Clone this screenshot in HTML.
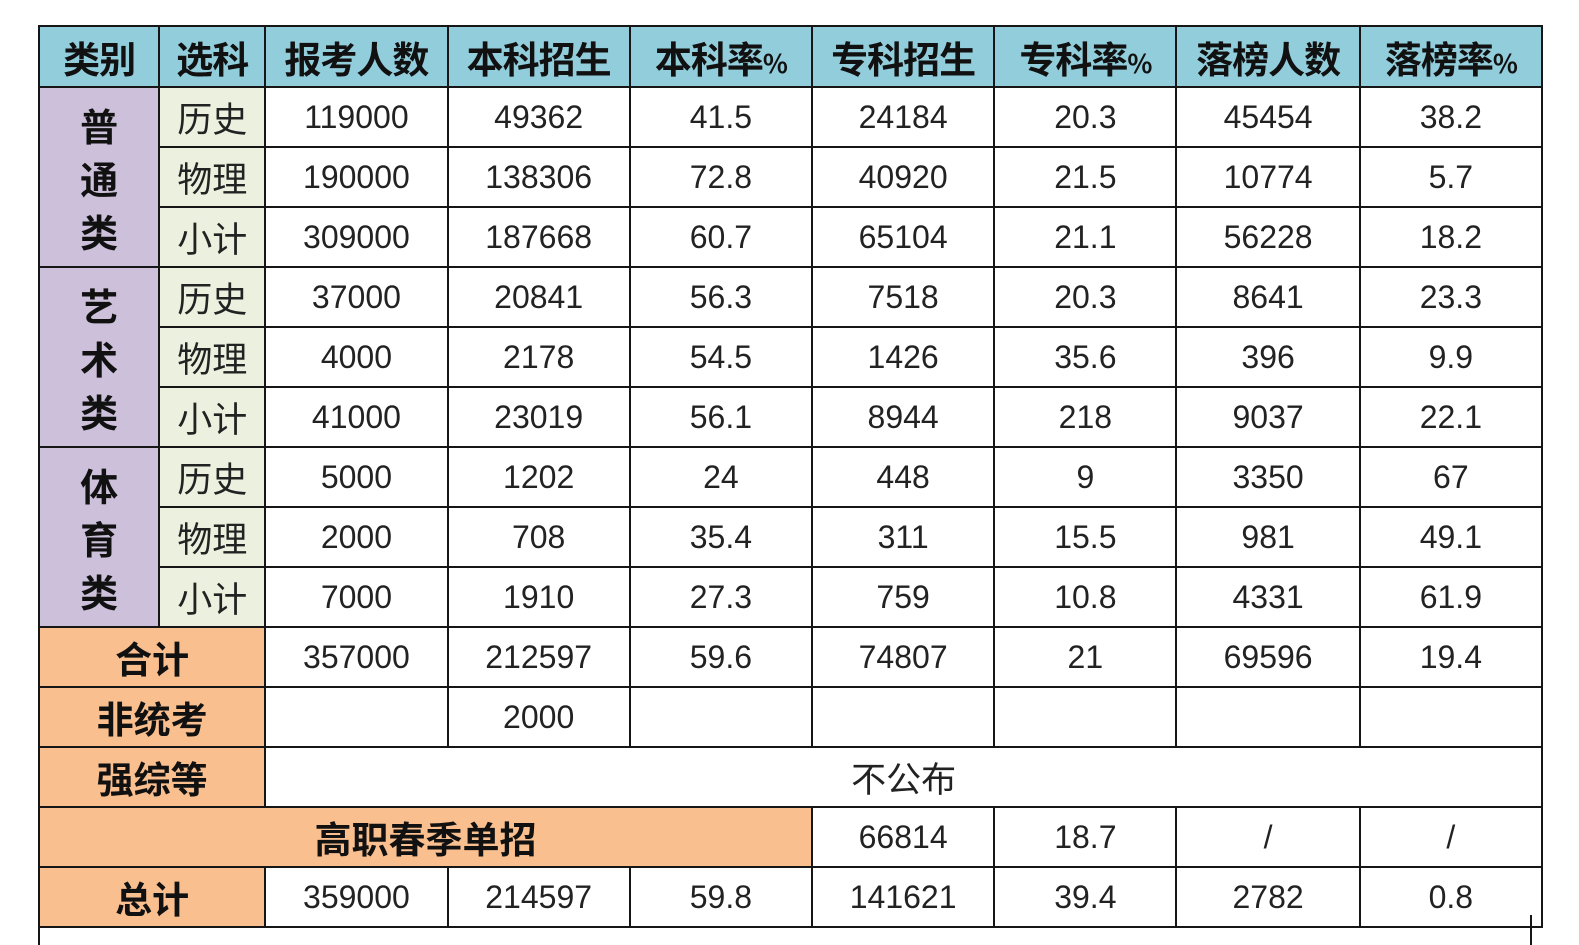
<!DOCTYPE html>
<html><head><meta charset="utf-8"><style>
html,body{margin:0;padding:0;background:#fff;width:1579px;height:938px;overflow:hidden}
.wrap{position:absolute;left:38px;top:25px}
table{border-collapse:collapse;table-layout:fixed;width:1505px}
td{border:2px solid #161616;text-align:center;padding:0;font-family:"Liberation Sans","Noto Sans CJK SC",sans-serif;font-size:32px;color:#222;overflow:hidden;white-space:nowrap}
tr{height:60px}
.h td{background:#92cddc;font-weight:bold;font-size:37px;color:#111;height:59px;font-family:"Noto Sans CJK SC",sans-serif;letter-spacing:-1px}
.h td span{font-size:26px}
.cat{background:#ccc0da;font-weight:bold;font-size:38px;line-height:53px;font-family:"Noto Sans CJK SC",sans-serif;color:#111}
.sub{background:#ebf1de;font-size:35px;font-family:"Noto Sans CJK SC",sans-serif;color:#222}
.or{background:#fabf8f;font-weight:bold;font-size:37px;font-family:"Noto Sans CJK SC",sans-serif;color:#111}
.cjk{font-family:"Noto Sans CJK SC",sans-serif;font-size:35px}
.vl{position:absolute;top:915px;width:2px;height:30px;background:#161616}
</style></head><body>
<div class="wrap">
<table>
<colgroup><col style="width:120px"><col style="width:106px"><col style="width:182px"><col style="width:182px"><col style="width:182px"><col style="width:182px"><col style="width:182px"><col style="width:183px"><col style="width:182px"></colgroup>
<tr class="h"><td>类别</td><td>选科</td><td>报考人数</td><td>本科招生</td><td>本科率<span>%</span></td><td>专科招生</td><td>专科率<span>%</span></td><td>落榜人数</td><td>落榜率<span>%</span></td></tr>
<tr><td class="cat" rowspan="3">普<br>通<br>类</td><td class="sub">历史</td><td>119000</td><td>49362</td><td>41.5</td><td>24184</td><td>20.3</td><td>45454</td><td>38.2</td></tr>
<tr><td class="sub">物理</td><td>190000</td><td>138306</td><td>72.8</td><td>40920</td><td>21.5</td><td>10774</td><td>5.7</td></tr>
<tr><td class="sub">小计</td><td>309000</td><td>187668</td><td>60.7</td><td>65104</td><td>21.1</td><td>56228</td><td>18.2</td></tr>
<tr><td class="cat" rowspan="3">艺<br>术<br>类</td><td class="sub">历史</td><td>37000</td><td>20841</td><td>56.3</td><td>7518</td><td>20.3</td><td>8641</td><td>23.3</td></tr>
<tr><td class="sub">物理</td><td>4000</td><td>2178</td><td>54.5</td><td>1426</td><td>35.6</td><td>396</td><td>9.9</td></tr>
<tr><td class="sub">小计</td><td>41000</td><td>23019</td><td>56.1</td><td>8944</td><td>218</td><td>9037</td><td>22.1</td></tr>
<tr><td class="cat" rowspan="3">体<br>育<br>类</td><td class="sub">历史</td><td>5000</td><td>1202</td><td>24</td><td>448</td><td>9</td><td>3350</td><td>67</td></tr>
<tr><td class="sub">物理</td><td>2000</td><td>708</td><td>35.4</td><td>311</td><td>15.5</td><td>981</td><td>49.1</td></tr>
<tr><td class="sub">小计</td><td>7000</td><td>1910</td><td>27.3</td><td>759</td><td>10.8</td><td>4331</td><td>61.9</td></tr>
<tr><td class="or" colspan="2">合计</td><td>357000</td><td>212597</td><td>59.6</td><td>74807</td><td>21</td><td>69596</td><td>19.4</td></tr>
<tr><td class="or" colspan="2">非统考</td><td></td><td>2000</td><td></td><td></td><td></td><td></td><td></td></tr>
<tr><td class="or" colspan="2">强综等</td><td colspan="7" class="cjk">不公布</td></tr>
<tr><td class="or" colspan="5">高职春季单招</td><td>66814</td><td>18.7</td><td>/</td><td>/</td></tr>
<tr><td class="or" colspan="2">总计</td><td>359000</td><td>214597</td><td>59.8</td><td>141621</td><td>39.4</td><td>2782</td><td>0.8</td></tr>
</table>
</div>
<div class="vl" style="left:38px"></div>
<div class="vl" style="left:1530px"></div>
</body></html>
